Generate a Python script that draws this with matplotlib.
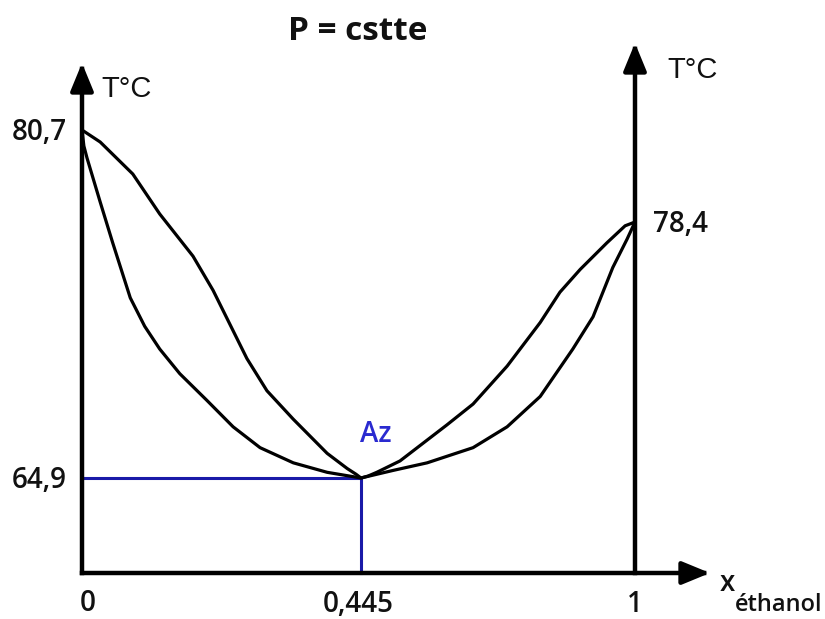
import numpy as np
import matplotlib
matplotlib.use("Agg")
import matplotlib.pyplot as plt

# ---------------- data ----------------
T_methanol = 80.7
T_ethanol = 78.4
T_az = 64.9
x_az = 0.445

# upper curve (vapour / dew curve)
dew_x = [0, 0.029, 0.081, 0.124, 0.177, 0.209, 0.236, 0.263, 0.295, 0.337, 0.391,
         0.423, 0.437, 0.445, 0.459, 0.477, 0.524, 0.579, 0.619, 0.672, 0.741, 0.808, 0.848,
         0.889, 0.943, 0.980, 1]
dew_T = [80.7, 80.4, 79.6, 78.6, 76.6, 74.8, 73.0, 71.2, 69.5, 68.0, 66.2,
         65.4, 65.1, 64.9, 65.0, 65.2, 65.8, 66.9, 67.7, 68.8, 70.8, 73.1, 74.7,
         75.9, 77.3, 78.2, 78.4]

# lower curve (liquid / bubble curve)
bub_x = [0, 0.003, 0.008, 0.029, 0.049, 0.077, 0.100, 0.124, 0.156, 0.199, 0.241,
         0.284, 0.337, 0.391, 0.445, 0.510, 0.579, 0.672, 0.741, 0.808, 0.874,
         0.915, 0.955, 0.984, 1]
bub_T = [80.7, 80.3, 80.0, 78.9, 77.3, 74.4, 72.9, 71.7, 70.4, 69.0, 67.6,
         66.5, 65.7, 65.2, 64.9, 65.3, 65.7, 66.5, 67.6, 69.2, 71.7,
         73.4, 76.0, 77.5, 78.4]

x_ticks = [0, x_az, 1]
x_ticklabels = ["0", "0,445", "1"]

# ---------------- schematic (piecewise-linear) scales ----------------
def piecewise(xp, fp):
    xp = np.asarray(xp, float)
    fp = np.asarray(fp, float)
    s0 = (fp[1] - fp[0]) / (xp[1] - xp[0])
    s1 = (fp[-1] - fp[-2]) / (xp[-1] - xp[-2])

    def f(v):
        v = np.asarray(v, float)
        out = np.interp(v, xp, fp)
        out = np.where(v < xp[0], fp[0] + (v - xp[0]) * s0, out)
        out = np.where(v > xp[-1], fp[-1] + (v - xp[-1]) * s1, out)
        return out
    return f

W, H = 825, 619
ax_l, ax_r, ax_b, ax_t = 82, 635, 573, 43     # pixel box of the axes
xnodes = [0, x_az, 1]
xfrac = [0, (361 - ax_l) / (ax_r - ax_l), 1]
ynodes = [T_az, T_ethanol, T_methanol]
ypix = [478, 222, 130]
yfrac = [(ax_b - p) / (ax_b - ax_t) for p in ypix]

fx, fx_inv = piecewise(xnodes, xfrac), piecewise(xfrac, xnodes)
fy, fy_inv = piecewise(ynodes, yfrac), piecewise(yfrac, ynodes)

fig = plt.figure(figsize=(W / 100, H / 100), dpi=100)
ax = fig.add_axes([ax_l / W, (H - ax_b) / H, (ax_r - ax_l) / W, (ax_b - ax_t) / H])
ax.set_xscale("function", functions=(fx, fx_inv))
ax.set_yscale("function", functions=(fy, fy_inv))
ax.set_xlim(0, 1)
ax.set_ylim(float(fy_inv(0.0)), float(fy_inv(1.0)))
ax.set_axis_off()

LW_AX = 3.2
BLUE = "#1a1aa8"
FONT = "Open Sans"

# curves
ax.plot(dew_x, dew_T, color="black", lw=2.3, solid_joinstyle="round",
        solid_capstyle="round", clip_on=False)
ax.plot(bub_x, bub_T, color="black", lw=2.3, solid_joinstyle="round",
        solid_capstyle="round", clip_on=False)

# azeotrope guide lines
ax.plot([0, x_az], [T_az, T_az], color=BLUE, lw=2.2, clip_on=False, zorder=1)
ax.plot([x_az, x_az], [T_az, float(fy_inv(0.0))], color=BLUE, lw=2.2, clip_on=False, zorder=1)

# axes arrows
arrow = dict(arrowstyle="-|>,head_length=0.85,head_width=0.35", lw=LW_AX, color="black",
             mutation_scale=20, shrinkA=0, shrinkB=0, capstyle="projecting")
ax.annotate("", xy=(0, (ax_b - 63) / (ax_b - ax_t)), xytext=(0, 0),
            xycoords="axes fraction", arrowprops=arrow)
ax.annotate("", xy=(1, 1), xytext=(1, 0), xycoords="axes fraction", arrowprops=arrow)
ax.annotate("", xy=((710 - ax_l) / (ax_r - ax_l), 0), xytext=(0, 0),
            xycoords="axes fraction", arrowprops=arrow)

num_kw = dict(fontsize=20, fontweight="semibold", family=FONT, color="#111111")

# y labels
ax.annotate(f"{T_methanol:.1f}".replace(".", ","), xy=(0, T_methanol), xytext=(-15, -10),
            textcoords="offset pixels", ha="right", va="baseline", **num_kw)
ax.annotate(f"{T_az:.1f}".replace(".", ","), xy=(0, T_az), xytext=(-15, -10),
            textcoords="offset pixels", ha="right", va="baseline", **num_kw)
ax.annotate(f"{T_ethanol:.1f}".replace(".", ","), xy=(1, T_ethanol), xytext=(18, -10),
            textcoords="offset pixels", ha="left", va="baseline", **num_kw)

# x tick labels
offs = [(6, -38), (-3, -39), (0, -39)]
for xv, lab, (dx, dy) in zip(x_ticks, x_ticklabels, offs):
    ax.annotate(lab, xy=(xv, 0), xycoords=("data", "axes fraction"), xytext=(dx, dy),
                textcoords="offset pixels", ha="center", va="baseline", **num_kw)

# azeotrope label
ax.annotate("Az", xy=(x_az, T_az), xytext=(15, 36), textcoords="offset pixels",
            ha="center", va="baseline", fontsize=20, fontweight="semibold",
            family=FONT, color="#2a2ad0")

# axis names
fig.text(101 / W, 1 - 97 / H, "T°C", fontsize=21, family="Liberation Sans",
         ha="left", va="baseline", color="#111111")
fig.text(667 / W, 1 - 78 / H, "T°C", fontsize=21, family="Liberation Sans",
         ha="left", va="baseline", color="#111111")
fig.text(720 / W, 1 - 591 / H, "x", fontsize=20, fontweight="semibold", family=FONT,
         ha="left", va="baseline", color="#111111")
fig.text(735 / W, 1 - 611 / H, "éthanol", fontsize=17, fontweight="semibold", family=FONT,
         ha="left", va="baseline", color="#111111")

# title
fig.text(358 / W, 1 - 40 / H, "P = cstte", fontsize=24, fontweight="bold", family=FONT,
         ha="center", va="baseline", color="#111111")

fig.savefig("out.png", dpi=100, facecolor="white")
